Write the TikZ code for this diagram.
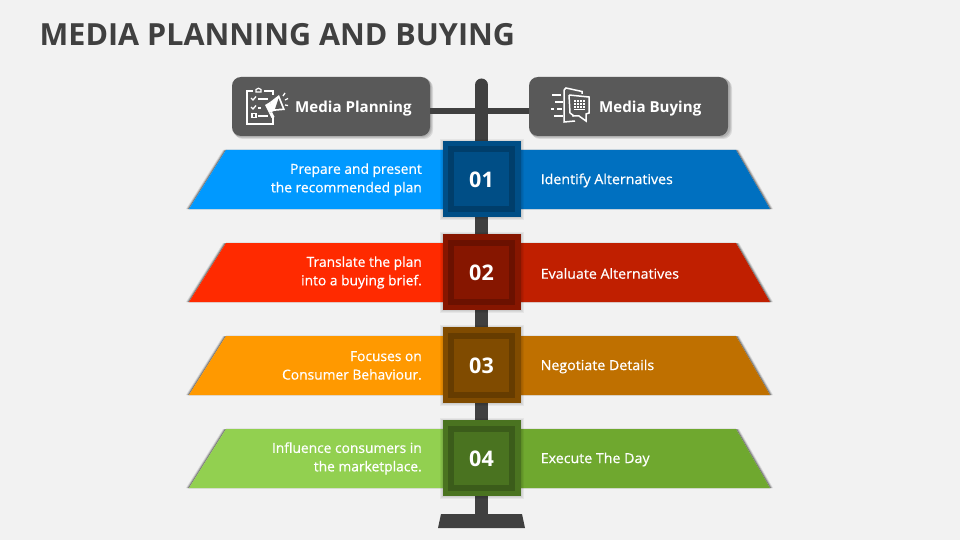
\documentclass[tikz,border=0pt]{standalone}
\usepackage{fontspec}
\setmainfont{Open Sans}
\newfontfamily\semifont[FakeBold=0.6]{Open Sans}
\usetikzlibrary{calc}
\definecolor{bg}{HTML}{F2F2F2}
\definecolor{pole}{HTML}{404040}
\definecolor{hdr}{HTML}{595959}
\definecolor{la}{HTML}{0099FF}\definecolor{ra}{HTML}{0070C0}\definecolor{oa}{HTML}{004E86}\definecolor{ma}{HTML}{003E6B}\definecolor{ia}{HTML}{004E86}
\definecolor{lb}{HTML}{FF2A00}\definecolor{rb}{HTML}{C01F00}\definecolor{ob}{HTML}{861600}\definecolor{mb}{HTML}{6B1100}\definecolor{ib}{HTML}{861600}
\definecolor{lc}{HTML}{FF9900}\definecolor{rc}{HTML}{BF7000}\definecolor{oc}{HTML}{804B00}\definecolor{mc}{HTML}{663C00}\definecolor{ic}{HTML}{804B00}
\definecolor{ld}{HTML}{92D050}\definecolor{rd}{HTML}{6FA82F}\definecolor{od}{HTML}{4A7320}\definecolor{md}{HTML}{3B5C1A}\definecolor{id}{HTML}{4A7320}
\tikzset{
  x=1pt,y=-1pt,
  headbox/.style={fill=hdr,rounded corners=9pt,inner sep=0pt,minimum width=198pt,minimum height=59pt},
  bandtext/.style={text=white,font=\fontsize{13.8}{18.5}\semifont,inner sep=0pt},
  numtext/.style={text=white,font=\fontsize{21.5}{24}\selectfont\bfseries,inner sep=0pt},
  headtext/.style={text=white,font=\fontsize{15.1}{18}\selectfont\bfseries,inner sep=0pt,anchor=west},
}
\newcommand{\bandrow}[4]{%
  % #1 colour suffix and name, #2 top y, #3 number, #4 right text
  \pgfmathsetmacro{\yt}{#2}\pgfmathsetmacro{\yb}{#2+59}
  \foreach \d/\o in {3/0.10,2/0.18,1/0.30}{
    \fill[black,opacity=\o] (189-\d,\yb) -- (226-\d,\yt) -- (226,\yt) -- (189,\yb) -- cycle;
    \fill[black,opacity=\o] (770+\d,\yb) -- (736+\d,\yt) -- (736,\yt) -- (770,\yb) -- cycle;
  }
  \fill[black,opacity=0.08] (189,\yb) rectangle (770,\yb+1.2);
  \fill[black,opacity=0.06] (226,\yt-1) rectangle (736,\yt);
  \fill[l#1] (189,\yb) -- (226,\yt) -- (482,\yt) -- (482,\yb) -- cycle;
  \fill[r#1] (770,\yb) -- (736,\yt) -- (482,\yt) -- (482,\yb) -- cycle;
  \foreach \d in {3,2,1}{
    \fill[black,opacity=0.05] (443-\d,\yt-9-\d+1) rectangle (521+\d,\yt+67+\d);
  }
  \node[fill=o#1,minimum width=78pt,minimum height=76pt,inner sep=0pt] (#1o) at (482,\yt+29) {};
  \node[fill=m#1,minimum width=67pt,minimum height=65pt,inner sep=0pt] (#1m) at (481.5,\yt+29) {};
  \node[fill=i#1,minimum width=55pt,minimum height=53pt,inner sep=0pt] (#1i) at (481.5,\yt+29) {};
  \node[numtext] (#1n) at (481.5,\yt+29.5) {#3};
  \node[bandtext,anchor=west,xscale=1.03] (#1r) at (540.5,\yt+30.5) {#4};
}
\begin{document}
\begin{tikzpicture}
\useasboundingbox (0,0) rectangle (960,540);
\fill[bg] (0,0) rectangle (960,540);
\node[anchor=west,inner sep=0pt,text=pole,font=\fontsize{30.5}{38}\selectfont\bfseries] (title) at (39.5,34.5) {MEDIA PLANNING AND BUYING};

% stand
\coordinate (poletop) at (481.5,85);
\coordinate (polebot) at (481.5,516);
\draw[pole,line width=13pt,line cap=round] (poletop) -- (polebot);
\fill[pole] (441,514) -- (522,514) -- (525,528) -- (438,528) -- cycle;

% header boxes with soft shadows
\foreach \d in {3,2,1}{
  \fill[black,opacity=0.10,rounded corners=9pt] (232+\d-1,77+\d-1) rectangle (430+\d,136+\d);
  \fill[black,opacity=0.10,rounded corners=9pt] (529+\d-1,77+\d-1) rectangle (729+\d,136+\d);
}
\node[headbox] (plan) at (331,106.5) {};
\node[headbox,minimum width=199pt] (buy) at (628.5,106.5) {};
\draw[pole,line width=6.5pt] ($(plan.east)+(0,4.5)$) -- ($(buy.west)+(0,4.5)$);

\node[headtext] (plantext) at (295,109) {Media Planning};
\node[headtext] (buytext) at (599,109) {Media Buying};

% planning icon
\begin{scope}[line width=1.3pt]
  \draw[white] (253,91) -- (247,91) -- (247,124) -- (273,124) -- (273,116);
  \draw[white] (264,91) -- (273,91) -- (273,95);
  \draw[white] (256,92) -- (256,89.5) to[bend left=60] (261,89.5) -- (261,92) -- cycle;
  \draw[white] (251,98) -- (253,100) -- (256,96.5);
  \draw[white] (258,99) -- (268,99);
  \draw[white] (251,107) -- (253,109) -- (256,105.5);
  \draw[white] (258,108) -- (261,108);
  \draw[white] (252,113.5) rectangle (256,117.5);
  \draw[white] (258,116) -- (268,116);
  \draw[white] (283,96) -- (285,93) (285,100) -- (288,98.5) (285,105) -- (288,105.5);
\end{scope}
\fill[white] (270,102) -- (279,95) -- (285,110) -- (273,111) -- cycle;
\fill[hdr] (278.5,98.5) -- (282.5,108.5) -- (275,109) -- cycle;
\fill[white] (265,105) -- (270,102) -- (274,111) -- (269,113) -- cycle;
\fill[white] (269,113) -- (272,112) -- (274.5,117) -- (271.5,118) -- cycle;

% buying icon
\begin{scope}[line width=1.5pt]
  \draw[white] (552,95) -- (561,95);
  \draw[white] (555,102) -- (563,102);
  \draw[white] (551,109) -- (554,109) (557,109) -- (562,109);
  \draw[white] (554,116) -- (563,116);
  \draw[white] (564,90) -- (566,88) -- (582,91.5) -- (582,94);
  \draw[white] (564,90) -- (564,122) -- (575,121);
  \draw[white] (569,95) -- (589,97) -- (589,113) -- (586,114) -- (586,121) -- (579,116) -- (572,116);
  \draw[white] (569,95) -- (570,113) -- (574,116);
\end{scope}
\foreach \x in {574,577,580,583}{
  \foreach \y in {100,103,106}{\fill[white] (\x,\y) rectangle (\x+1.8,\y+1.6);}
}
\draw[white,line width=1pt] (574,110) -- (585,110);

% rows
\bandrow{a}{150}{01}{Identify Alternatives}
\bandrow{b}{243}{02}{Evaluate Alternatives}
\bandrow{c}{336}{03}{Negotiate Details}
\bandrow{d}{429}{04}{Execute The Day}

\node[bandtext,anchor=east,align=right] (al) at (422,179.5) {Prepare and present\\the recommended plan};
\node[bandtext,anchor=east,align=right] (bl) at (422,272.5) {Translate the plan\\into a buying brief.};
\node[bandtext,anchor=east,align=right] (cl) at (422,365.5) {Focuses on\\Consumer Behaviour.};
\node[bandtext,anchor=east,align=right] (dl) at (422,458.5) {Influence consumers in\\the marketplace.};
\end{tikzpicture}
\end{document}
